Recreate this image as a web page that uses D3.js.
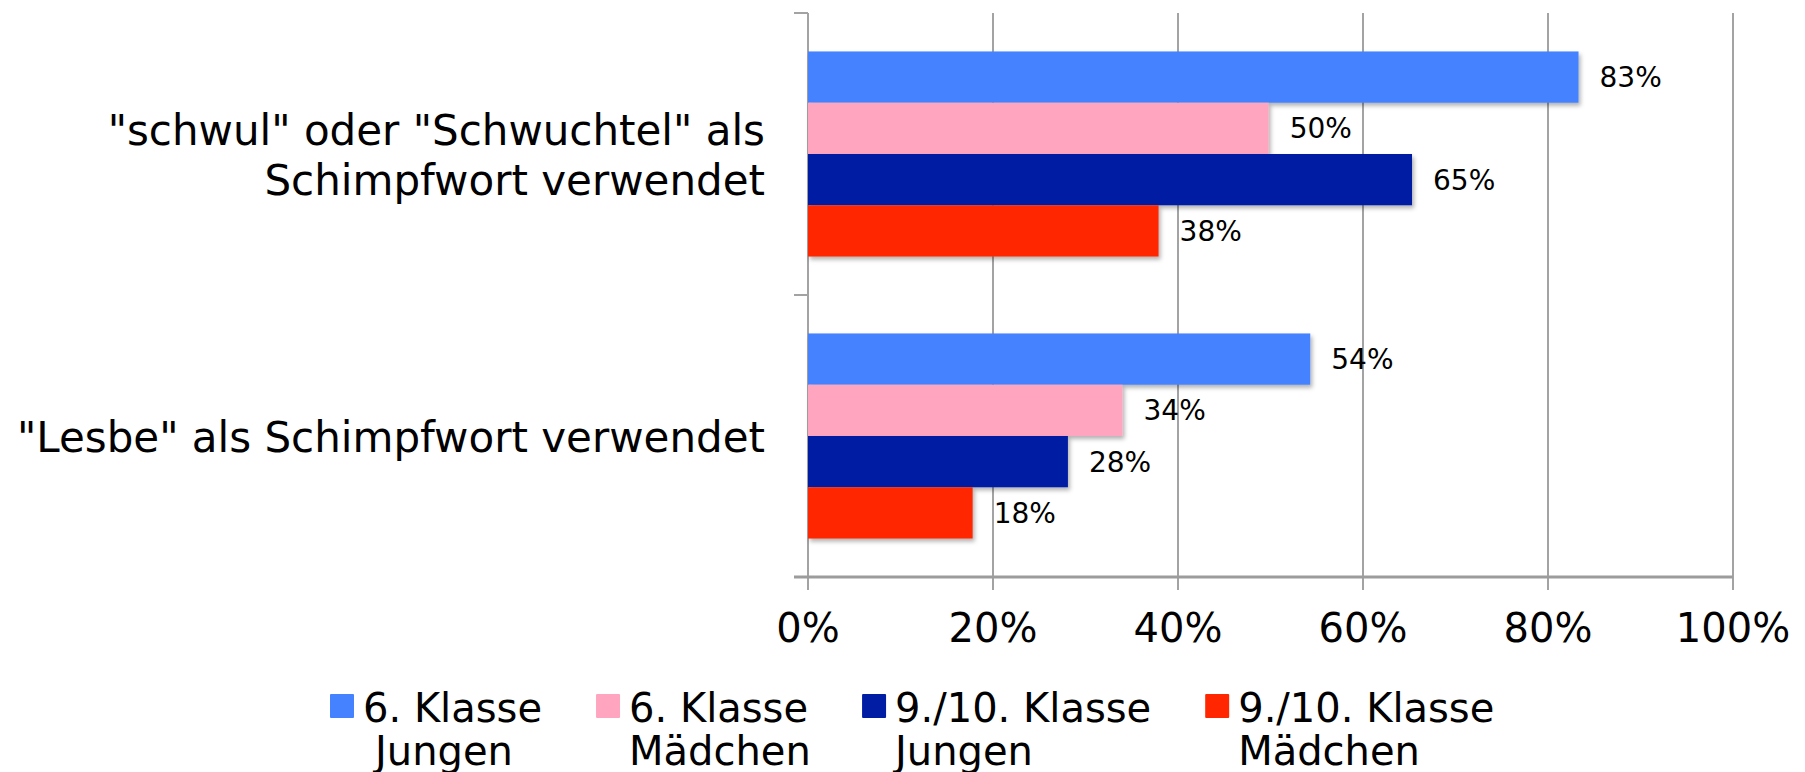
<!DOCTYPE html>
<html>
<head>
  <meta charset="utf-8">
  <title>Schimpfwörter</title>
  <script src="https://d3js.org/d3.v7.min.js"></script>
  <style>
    body { margin: 0; background: #fff; }
    text { font-family: "DejaVu Sans", Verdana, sans-serif; fill: #000; }
  </style>
</head>
<body>
  <svg id="grafico"></svg>

  <script>
    const kategorien = [
      ['"schwul" oder "Schwuchtel" als', "Schimpfwort verwendet"],
      ['"Lesbe" als Schimpfwort verwendet']
    ];
    const reihen = [
      ["6. Klasse", "Jungen"],
      ["6. Klasse", "Mädchen"],
      ["9./10. Klasse", "Jungen"],
      ["9./10. Klasse", "Mädchen"]
    ];
    const farben = ["#4482ff", "#ffa5c0", "#001da3", "#ff2600"];
    // Werte pro Kategorie, Reihenfolge wie reihen
    const werte = [
      [0.833, 0.498, 0.653, 0.379],
      [0.543, 0.340, 0.281, 0.178]
    ];
    const achsenTicks = [0, 0.2, 0.4, 0.6, 0.8, 1];

    const breite = 1805, hoehe = 772;
    const svg = d3.select("#grafico")
      .attr("width", breite)
      .attr("height", hoehe);

    const defs = svg.append("defs");
    defs.append("filter")
      .attr("id", "schatten")
      .attr("x", "-5%").attr("y", "-20%")
      .attr("width", "115%").attr("height", "160%")
      .append("feDropShadow")
      .attr("dx", 2).attr("dy", 3)
      .attr("stdDeviation", 2)
      .attr("flood-color", "#000")
      .attr("flood-opacity", 0.3);

    const x = d3.scaleLinear().domain([0, 1]).range([808, 1733]);
    const y0 = d3.scaleBand()
      .domain(d3.range(kategorien.length))
      .range([13, 577])
      .padding(0);
    const y1 = d3.scaleBand()
      .domain(d3.range(reihen.length))
      .range([0, y0.bandwidth()])
      .paddingInner(0)
      .paddingOuter(0.75);

    // Gitterlinien
    svg.selectAll(".gitter")
      .data(achsenTicks.slice(1))
      .enter()
      .append("line")
      .attr("class", "gitter")
      .attr("x1", d => x(d)).attr("x2", d => x(d))
      .attr("y1", 13).attr("y2", 590)
      .style("stroke", "#a3a3a3")
      .style("stroke-width", 2);

    // vertikale Achse
    svg.append("line")
      .attr("x1", x(0)).attr("x2", x(0))
      .attr("y1", 13).attr("y2", 590)
      .style("stroke", "#a3a3a3")
      .style("stroke-width", 2);
    const grenzen = d3.range(kategorien.length + 1).map(i => 13 + i * y0.step());
    svg.selectAll(".ytick")
      .data(grenzen)
      .enter()
      .append("line")
      .attr("x1", x(0) - 14).attr("x2", x(0))
      .attr("y1", d => d).attr("y2", d => d)
      .style("stroke", "#a3a3a3")
      .style("stroke-width", 2);

    // Balken
    const gruppen = svg.selectAll(".gruppe")
      .data(werte)
      .enter()
      .append("g")
      .attr("class", "gruppe")
      .attr("transform", (d, i) => `translate(0,${y0(i)})`);

    gruppen.selectAll("rect")
      .data(d => d)
      .enter()
      .append("rect")
      .attr("x", x(0))
      .attr("y", (d, i) => y1(i))
      .attr("width", d => x(d) - x(0))
      .attr("height", y1.bandwidth())
      .attr("filter", "url(#schatten)")
      .style("fill", (d, i) => farben[i]);

    gruppen.selectAll(".wert")
      .data(d => d)
      .enter()
      .append("text")
      .attr("class", "wert")
      .attr("x", d => x(d) + 21)
      .attr("y", (d, i) => y1(i) + y1.bandwidth() / 2 + 10)
      .style("font-size", "28px")
      .text(d => d3.format(".0%")(d));

    // horizontale Achse
    svg.append("line")
      .attr("x1", x(0) - 14).attr("x2", x(1))
      .attr("y1", 577).attr("y2", 577)
      .style("stroke", "#9c9c9c")
      .style("stroke-width", 3);

    svg.selectAll(".xlabel")
      .data(achsenTicks)
      .enter()
      .append("text")
      .attr("class", "xlabel")
      .attr("x", d => x(d))
      .attr("y", 642)
      .attr("text-anchor", "middle")
      .style("font-size", "40px")
      .text(d => d3.format(".0%")(d));

    // Kategorien
    svg.selectAll(".kat")
      .data(kategorien)
      .enter()
      .append("text")
      .attr("class", "kat")
      .attr("text-anchor", "end")
      .style("font-size", "42px")
      .each(function (zeilen, i) {
        const mitte = y0(i) + y0.bandwidth() / 2;
        const start = mitte + 16 - (zeilen.length - 1) * 25;
        d3.select(this).selectAll("tspan")
          .data(zeilen)
          .enter()
          .append("tspan")
          .attr("x", 765)
          .attr("y", (z, j) => start + j * 50)
          .text(z => z);
      });

    // Legende
    const legende = svg.append("g");
    let lx = 330;
    reihen.forEach((r, i) => {
      const g = legende.append("g");
      g.append("rect")
        .attr("x", lx).attr("y", 694)
        .attr("width", 24).attr("height", 24)
        .attr("rx", 1)
        .style("fill", farben[i]);
      const t = g.append("text")
        .style("font-size", "40px");
      t.append("tspan").attr("x", lx + 33).attr("y", 722).text(r[0]);
      t.append("tspan").attr("x", lx + 33 + (i === 0 ? 12 : 0)).attr("y", 765).text(r[1]);
      const w = t.select("tspan").node().getComputedTextLength();
      lx = lx + 33 + w + 54;
    });
  </script>
</body>
</html>
